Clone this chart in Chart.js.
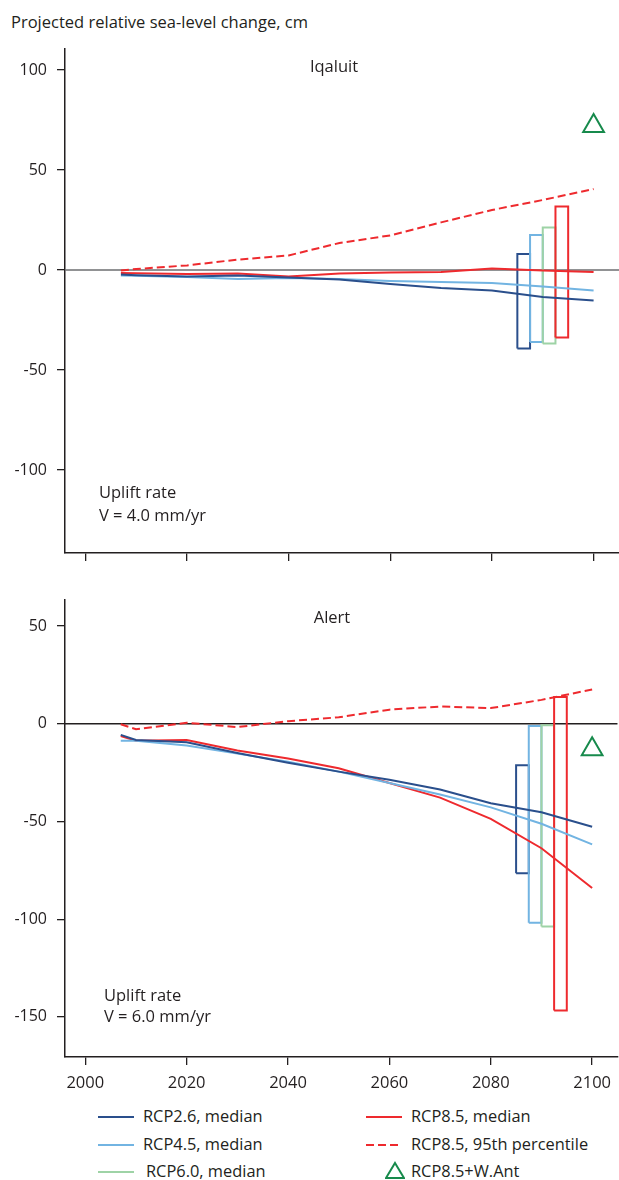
<!DOCTYPE html>
<html>
<head>
<meta charset="utf-8">
<script src="https://cdn.jsdelivr.net/npm/chart.js@4.4.1/dist/chart.umd.min.js"></script>
<style>
    html, body { margin: 0; background: #fff; overflow: hidden; }
    body { width: 619px; height: 1180px; position: relative;
           font-family: "Open Sans", sans-serif; color: #231f20; }
    canvas { position: absolute; left: 0; }
    .t { position: absolute; font-size: 16.5px; line-height: 20px; white-space: nowrap; }
    .c { transform: translateX(-50%); }
    .lg { position: absolute; font-size: 16.4px; line-height: 20px; white-space: nowrap; }
</style>
</head>
<body>
<div class="t" style="left:11px;top:12px">Projected relative sea-level change, cm</div>

<canvas id="chart-top" width="619" height="580" style="top:0"></canvas>
<canvas id="chart-bottom" width="619" height="520" style="top:580px"></canvas>

<div class="t c" style="left:334px;top:56px">Iqaluit</div>
<div class="t" style="left:99px;top:482px">Uplift rate</div>
<div class="t" style="left:99px;top:505px">V = 4.0 mm/yr</div>

<div class="t c" style="left:332px;top:607px">Alert</div>
<div class="t" style="left:104px;top:985px">Uplift rate</div>
<div class="t" style="left:104px;top:1006px">V = 6.0 mm/yr</div>

<div id="legend"></div>

<script>
'use strict';

// years of the projection points
const years = [2007, 2010, 2020, 2030, 2040, 2050, 2060, 2070, 2080, 2090, 2100];
const xTicks = [2000, 2020, 2040, 2060, 2080, 2100];

// Iqaluit, cm
const iqRcp26 = [-2.3, -2.6, -3.2, -2.8, -3.7, -4.8, -7.0, -9.0, -10.2, -13.5, -15.3];
const iqRcp45 = [-2.7, -2.9, -3.5, -4.5, -4.0, -4.5, -5.5, -6.0, -6.5, -8.2, -10.3];
const iqRcp85 = [-1.5, -1.6, -2.0, -1.8, -3.2, -1.7, -1.3, -1.0, 0.7, -0.2, -1.0];
const iqRcp85p95 = [-0.3, 0.5, 2.3, 5.2, 7.3, 13.5, 17.3, 23.8, 30.0, 35.0, 40.5];
const iqBoxLow = [-39.2, -36.0, -36.7, -33.8];
const iqBoxHigh = [8.0, 17.5, 21.2, 31.8];
const iqWAnt = 72;
const iqTicks = [100, 50, 0, -50, -100];

// Alert, cm
const alRcp26 = [-5.7, -8.3, -9.5, -15.0, -20.0, -24.5, -28.7, -33.7, -40.7, -45.3, -52.7];
const alRcp45 = [-8.7, -8.7, -11.2, -15.3, -19.5, -24.5, -30.3, -36.2, -42.8, -51.2, -61.7];
const alRcp85 = [-6.3, -8.7, -8.3, -13.7, -17.8, -22.8, -30.3, -37.8, -48.7, -63.7, -84.0];
const alRcp85p95 = [-0.3, -2.8, 0.5, -1.7, 1.3, 3.3, 7.2, 8.8, 8.0, 12.2, 17.5];
const alBoxLow = [-76.5, -101.8, -103.8, -146.7];
const alBoxHigh = [-21.3, -1.2, -0.8, 13.7];
const alWAnt = -13;
const alTicks = [50, 0, -50, -100, -150];

// ranges at 2100, drawn side by side
const boxStart = [2085, 2087.5, 2090, 2092.5];
const boxYears = 2.5;
const wAntYear = 2100;

const INK = '#231f20';
const C26 = '#2a4f8c';
const C45 = '#72b4e2';
const C60 = '#9ed3a6';
const C85 = '#ee2a2e';
const CANT = '#178a4c';
const boxColors = [C26, C45, C60, C85];

const zeroLine = {
    id: 'zeroLine',
    beforeDatasetsDraw(chart, args, opts) {
        const {ctx, chartArea, scales} = chart;
        const py = scales.y.getPixelForValue(0);
        ctx.save();
        ctx.strokeStyle = opts.color;
        ctx.lineWidth = 1.5;
        ctx.beginPath();
        ctx.moveTo(chartArea.left, py);
        ctx.lineTo(chartArea.right, py);
        ctx.stroke();
        ctx.restore();
    }
};

function pts(vals) {
    return years.map((x, i) => ({x: x, y: vals[i]}));
}

function line(vals, color, dash) {
    return {
        type: 'line', data: pts(vals), borderColor: color, borderWidth: 2,
        borderDash: dash || [], pointRadius: 0, tension: 0, fill: false, order: 1
    };
}

// each box is a closed outline; the right-hand box sits on top of its neighbour
function boxes(low, high) {
    return boxStart.map((x0, i) => {
        let x1 = x0 + boxYears;
        return {
            type: 'line',
            data: [{x: x0, y: low[i]}, {x: x0, y: high[i]}, {x: x1, y: high[i]}, {x: x1, y: low[i]}, {x: x0, y: low[i]}],
            borderColor: boxColors[i], borderWidth: 2, borderJoinStyle: 'miter',
            pointRadius: 0, tension: 0, fill: false, order: 5 - i
        };
    });
}

function createChart(id, p) {
    let datasets = boxes(p.low, p.high).concat([
        line(p.r26, C26),
        line(p.r45, C45),
        line(p.r85, C85),
        line(p.p95, C85, [8, 4]),
        {
            type: 'line', data: [{x: wAntYear, y: p.ant}], showLine: false,
            pointStyle: 'triangle', pointRadius: 12, pointBorderWidth: 2,
            pointBorderColor: CANT, pointBackgroundColor: 'rgba(0,0,0,0)', order: 0
        }
    ]);
    return new Chart(document.getElementById(id), {
        type: 'line',
        data: {datasets: datasets},
        plugins: [zeroLine],
        options: {
            responsive: false,
            animation: false,
            devicePixelRatio: 1,
            layout: {autoPadding: false, padding: {top: p.padTop, left: 0, right: 0, bottom: 0}},
            plugins: {
                legend: {display: false},
                tooltip: {enabled: false},
                zeroLine: {color: p.zeroColor}
            },
            scales: {
                x: {
                    type: 'linear', min: 1996, max: 2105,
                    afterBuildTicks: s => { s.ticks = xTicks.map(v => ({value: v})); },
                    afterFit: s => { s.height = p.xHeight; },
                    ticks: {display: p.xLabels, color: INK, padding: 8,
                            callback: v => String(v),
                            font: {family: 'Open Sans', size: 16.5}},
                    grid: {drawOnChartArea: false, drawTicks: true, tickLength: 8, color: INK, lineWidth: 1.3},
                    border: {color: INK, width: 1.5}
                },
                y: {
                    type: 'linear', min: p.yMin, max: p.yMax,
                    afterBuildTicks: s => { s.ticks = p.yTicks.map(v => ({value: v})); },
                    afterFit: s => { s.width = 65; },
                    ticks: {color: INK, padding: 10, callback: v => String(v),
                            font: {family: 'Open Sans', size: 16}},
                    grid: {drawOnChartArea: false, drawTicks: true, tickLength: 8, color: INK, lineWidth: 1.3},
                    border: {color: INK, width: 1.5}
                }
            }
        }
    });
}

createChart('chart-top', {
    r26: iqRcp26, r45: iqRcp45, r85: iqRcp85, p95: iqRcp85p95,
    low: iqBoxLow, high: iqBoxHigh, ant: iqWAnt, yTicks: iqTicks,
    yMin: -141.5, yMax: 110.5, padTop: 49, xHeight: 27, xLabels: false, zeroColor: '#6d6e71'
});

createChart('chart-bottom', {
    r26: alRcp26, r45: alRcp45, r85: alRcp85, p95: alRcp85p95,
    low: alBoxLow, high: alBoxHigh, ant: alWAnt, yTicks: alTicks,
    yMin: -170.5, yMax: 63.5, padTop: 9, xHeight: 43, xLabels: true, zeroColor: INK
});

// legend under the chart
(function createLegend() {
    let items = [
        {label: 'RCP2.6, median', color: C26, x: 98, tx: 143, y: 1117},
        {label: 'RCP4.5, median', color: C45, x: 98, tx: 143, y: 1145},
        {label: 'RCP6.0, median', color: C60, x: 98, tx: 146, y: 1172},
        {label: 'RCP8.5, median', color: C85, x: 366, tx: 411, y: 1117},
        {label: 'RCP8.5, 95th percentile', color: C85, x: 366, tx: 411, y: 1145, dash: true},
        {label: 'RCP8.5+W.Ant', color: CANT, x: 366, tx: 411, y: 1172, tri: true}
    ];
    let html = '';
    for (let it of items) {
        let mark;
        if (it.tri) {
            mark = `<svg width="20" height="20" style="left:${it.x + 19}px;top:${it.y - 11}px;position:absolute">` +
                `<polygon points="10,2 19,17 1,17" fill="none" stroke="${it.color}" stroke-width="2"/></svg>`;
        } else {
            mark = `<svg width="36" height="4" style="left:${it.x}px;top:${it.y - 2}px;position:absolute">` +
                `<line x1="0" y1="2" x2="36" y2="2" stroke="${it.color}" stroke-width="2"` +
                (it.dash ? ' stroke-dasharray="8,4"' : '') + '/></svg>';
        }
        html += mark + `<div class="lg" style="left:${it.tx}px;top:${it.y - 11}px">${it.label}</div>`;
    }
    document.getElementById('legend').innerHTML = html;
})();
</script>
</body>
</html>
